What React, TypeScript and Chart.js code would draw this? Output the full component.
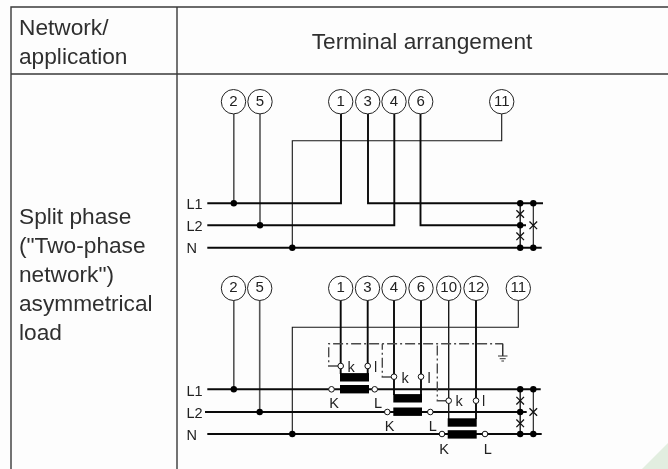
import React, { useEffect, useRef } from "react";
import { Chart, registerables } from "chart.js";

Chart.register(...registerables);

type P = [number, number];
type T = [string, number, number];

// Table
const tableFrame: P[][] = [
  [[668, 7], [11, 7], [11, 469]],
  [[11, 74], [668, 74]],
  [[177, 7], [177, 469]],
];
const tableTextLeft: T[] = [
  ["Network/", 19, 35],
  ["application", 19, 64],
  ["Split phase", 19, 223.5],
  ['("Two-phase', 19, 252.5],
  ['network")', 19, 281.5],
  ["asymmetrical", 19, 310.5],
  ["load", 19, 339.5],
];
const tableTextCenter: T[] = [["Terminal arrangement", 422, 49]];

// Terminal circles
const terminals: T[] = [
  ["2", 233.5, 101.7], ["5", 260, 101.7], ["1", 340.7, 101.7], ["3", 367.7, 101.7],
  ["4", 394, 101.7], ["6", 420.7, 101.7], ["11", 501.7, 101.7],
  ["2", 233.5, 288.3], ["5", 259.7, 288.3], ["1", 340.7, 288.3], ["3", 367.5, 288.3],
  ["4", 394, 288.3], ["6", 421, 288.3], ["10", 448.7, 288.3], ["12", 476, 288.3], ["11", 518.3, 288.3],
];

// Phase labels and transformer labels
const phaseLabels: T[] = [
  ["L1", 186.5, 208.7], ["L2", 186.5, 230.7], ["N", 186.5, 252.7],
  ["L1", 186.5, 396], ["L2", 186.5, 417.7], ["N", 186.5, 440],
];
const transformerLabels: T[] = [
  ["k", 351, 371.7], ["l", 375.5, 371.7], ["K", 334, 407.7], ["L", 378, 407.7],
  ["k", 405, 382.7], ["l", 429, 382.7], ["K", 389.5, 430.7], ["L", 432.7, 430.7],
  ["k", 459, 406], ["l", 483.5, 406], ["K", 444, 454.3], ["L", 487.7, 454.3],
];

// Wires
const greyWires: P[][] = [
  [[233.8, 114], [233.8, 203.3]],
  [[260, 114], [260, 225.3]],
  [[233.8, 300], [233.8, 389.3]],
  [[259.7, 300], [259.7, 412]],
];
const phaseWires: P[][] = [
  [[207.3, 203.3], [341, 203.3], [341, 114]],
  [[368, 114], [368, 203.3], [543, 203.3]],
  [[207.3, 225.3], [394.3, 225.3], [394.3, 114]],
  [[420.5, 114], [420.5, 225.3], [526, 225.3]],
  [[207.3, 247.7], [541.7, 247.7]],
  [[207.3, 389.3], [540.7, 389.3]],
  [[205, 412], [526.7, 412]],
  [[207.3, 434], [541.7, 434]],
  [[340.7, 300], [340.7, 374]],
  [[367.7, 300], [367.7, 374]],
  [[394, 300], [394, 395]],
  [[421, 300], [421, 395]],
  [[476, 300], [476, 419]],
];
const mediumWires: P[][] = [
  [[448.7, 300], [448.7, 419]],
  [[520.2, 203.3], [520.2, 247.7]],
  [[520.2, 389.3], [520.2, 434]],
];
const thinWires: P[][] = [
  [[501.7, 114], [501.7, 140.7], [292.3, 140.7], [292.3, 247.7]],
  [[518.3, 300], [518.3, 327.3], [292.3, 327.3], [292.3, 434]],
  [[533.3, 203.3], [533.3, 247.7]],
  [[533.3, 389.3], [533.3, 434]],
];
const groundDashes: P[][] = [
  [[338, 366], [328.7, 366], [328.7, 343.7], [502.7, 343.7]],
  [[391, 377], [382.3, 377], [382.3, 343.7]],
  [[446, 400.7], [437.3, 400.7], [437.3, 343.7]],
];
const groundSymbol: P[][] = [
  [[502.7, 343.7], [502.7, 356]],
  [[498, 356], [507.5, 356]],
  [[499.7, 358.7], [505.7, 358.7]],
  [[501.4, 361], [504, 361]],
];

// Transformer windings
const windings: P[][] = [
  [[340, 377.3], [369, 377.3]],
  [[340, 389.2], [369, 389.2]],
  [[393.3, 398.3], [422, 398.3]],
  [[393.3, 411.7], [422, 411.7]],
  [[447.7, 422.5], [476.7, 422.5]],
  [[447.7, 434.4], [476.7, 434.4]],
];

// Point marks
const junctions: P[] = [
  [233.8, 203.3], [260, 225.3], [292.3, 247.7],
  [520.2, 203.3], [520.2, 225.3], [520.2, 247.7], [533.3, 203.3], [533.3, 247.7],
  [233.8, 389.3], [259.7, 412], [292.3, 434],
  [520.2, 389.3], [520.2, 412], [520.2, 434], [533.3, 389.3], [533.3, 434],
];
const crosses: P[] = [
  [520.2, 214], [520.2, 236.3], [533.3, 225.3],
  [520.2, 400.7], [520.2, 423.3], [533.3, 412],
];
const openContacts: P[] = [
  [340.7, 366], [367.7, 366], [331.5, 389.3], [374.7, 389.3],
  [394, 376.7], [421, 376.7], [387.3, 412], [430.3, 412],
  [448.7, 400.7], [476, 400.7], [442, 434], [485, 434],
];

// Corner decoration
const cornerEdge: P[] = [[642, 469], [668, 443]];

const pts = (a: P[]) => a.map(([x, y]) => ({ x, y }));

export default function App() {
  const ref = useRef<HTMLCanvasElement>(null);
  useEffect(() => {
    const canvas = ref.current;
    if (!canvas) return;

    const lineSet = (d: P[], color: string, width: number, dash: number[] = []) => ({
      data: pts(d),
      showLine: true,
      borderColor: color,
      borderWidth: width,
      borderDash: dash,
      pointRadius: 0,
      borderCapStyle: "butt" as const,
      borderJoinStyle: "miter" as const,
      tension: 0,
      clip: false,
    });
    const pointSet = (d: P[], style: string, r: number, fill: string, stroke: string, bw: number) => ({
      data: pts(d),
      showLine: false,
      pointStyle: style,
      pointRadius: r,
      pointBackgroundColor: fill,
      pointBorderColor: stroke,
      pointBorderWidth: bw,
      clip: false,
    });

    const list: any[] = [
      {
        data: pts(cornerEdge),
        showLine: true,
        borderWidth: 0,
        pointRadius: 0,
        fill: "start",
        backgroundColor: "#e2eee0",
        borderColor: "#e2eee0",
      },
      ...tableFrame.map((d) => lineSet(d, "#3a3a3a", 1.4)),
      ...thinWires.map((d) => lineSet(d, "#151515", 1.1)),
      ...greyWires.map((d) => lineSet(d, "#555555", 1.6)),
      ...phaseWires.map((d) => lineSet(d, "#0a0a0a", 1.9)),
      ...mediumWires.map((d) => lineSet(d, "#1a1a1a", 1.4)),
      ...groundDashes.map((d) => lineSet(d, "#4a4a4a", 1.4, [10, 3, 2, 3])),
      ...groundSymbol.map((d) => lineSet(d, "#333333", 1)),
      ...windings.map((d) => lineSet(d, "#000000", 8.4)),
      pointSet(terminals.map((t) => [t[1], t[2]] as P), "circle", 12.2, "#ffffff", "#222222", 1),
      pointSet(junctions, "circle", 3.2, "#000000", "#000000", 0),
      pointSet(crosses, "crossRot", 5.4, "transparent", "#111111", 1.3),
      pointSet(openContacts, "circle", 2.8, "#ffffff", "#111111", 1),
    ];
    const datasets = list.map((d, i) => ({ ...d, order: list.length - i }));

    const textPlugin = {
      id: "diagramText",
      afterDatasetsDraw(chart: any) {
        const { ctx, scales } = chart;
        const draw = (items: T[], font: string, color: string, align: CanvasTextAlign, base: CanvasTextBaseline) => {
          ctx.save();
          ctx.font = font;
          ctx.fillStyle = color;
          ctx.textAlign = align;
          ctx.textBaseline = base;
          items.forEach(([s, x, y]) => ctx.fillText(s, scales.x.getPixelForValue(x), scales.y.getPixelForValue(y)));
          ctx.restore();
        };
        const sans = '"Liberation Sans", sans-serif';
        draw(tableTextLeft, `22.7px ${sans}`, "#2f2f2f", "left", "alphabetic");
        draw(tableTextCenter, `22.7px ${sans}`, "#2f2f2f", "center", "alphabetic");
        draw(terminals, `15px ${sans}`, "#222222", "center", "middle");
        draw(phaseLabels, `14.5px ${sans}`, "#222222", "left", "alphabetic");
        draw(transformerLabels, `14.5px ${sans}`, "#222222", "center", "alphabetic");
      },
    };

    const chart = new Chart(canvas, {
      type: "scatter",
      data: { datasets },
      options: {
        animation: false,
        responsive: false,
        devicePixelRatio: 1,
        layout: { padding: 0, autoPadding: false },
        plugins: { legend: { display: false }, tooltip: { enabled: false }, title: { display: false } },
        scales: {
          x: { type: "linear", min: 0, max: 668, display: false },
          y: { type: "linear", min: 0, max: 469, reverse: true, display: false },
        },
      },
      plugins: [textPlugin],
    } as any);
    return () => chart.destroy();
  }, []);
  return (
    <canvas
      ref={ref}
      width={668}
      height={469}
      style={{ position: "fixed", left: 0, top: 0, display: "block", background: "#fdfdfd" }}
    />
  );
}
